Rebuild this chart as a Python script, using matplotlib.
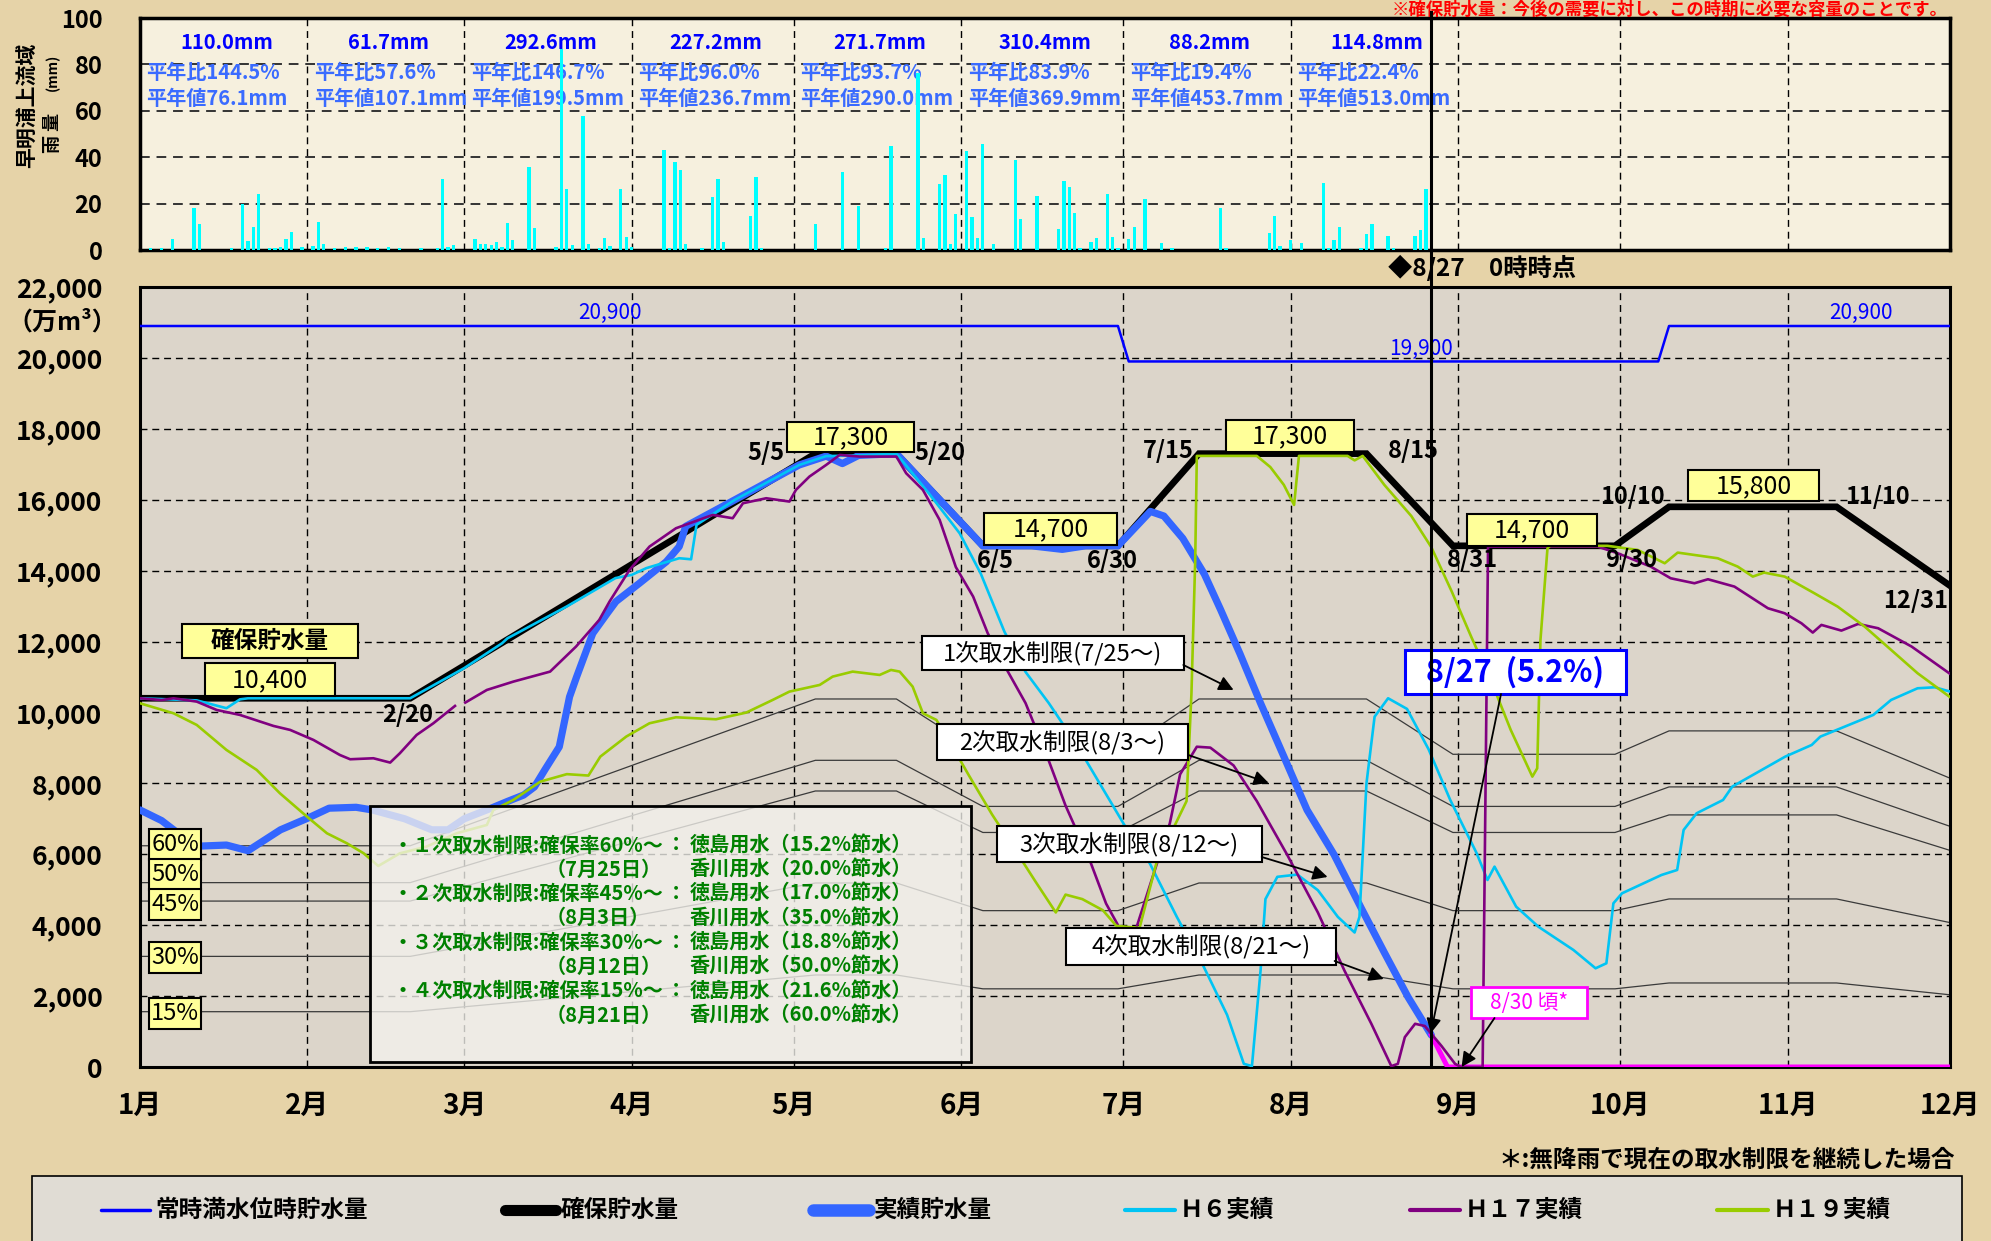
import numpy as np
import matplotlib
matplotlib.use("Agg")
import matplotlib.pyplot as plt
import matplotlib.transforms as mtransforms
from matplotlib.patches import Rectangle
from matplotlib.lines import Line2D

plt.rcParams["font.family"] = ["Noto Sans CJK JP", "DejaVu Sans"]

W, H = 1991, 1241

# =========================================
# DATA
# =========================================

# day-of-year (2008) of the 1st of each month
MONTH_START = [0, 31, 60, 91, 121, 152, 182, 213, 244, 274, 305, 335]
month_labels = ["1月", "2月", "3月", "4月", "5月", "6月",
                "7月", "8月", "9月", "10月", "11月", "12月"]


def doy(md):
    m, d = md.split("/")
    return MONTH_START[int(m) - 1] + int(d) - 1


# daily rainfall upstream of Sameura dam (day, mm)
rain_pts = [
    (2, 1), (4, 1), (6, 4.6), (10, 18), (11, 11), (17, 1), (19, 20), (20, 4),
    (21, 10), (22, 24), (24, 1), (25, 1), (26, 1.5), (27, 4.6), (28, 7.6),
    (30, 1.5), (32, 1.7), (33, 12), (34, 2.4), (36, 1), (38, 1.5), (40, 1.5),
    (42, 1.2), (44, 1), (46, 1.5), (48, 1), (52, 0.8), (55, 1), (56, 30.5),
    (57, 1.5), (58, 2), (62, 4.6), (63, 2.4), (64, 2.4), (65, 2), (66, 3.3),
    (67, 1.5), (68, 11.5), (69, 4.3), (72, 35.7), (73, 9.4), (77, 1.5),
    (78, 86.6), (79, 26.2), (80, 2), (82, 57.8), (83, 2.6), (85, 1), (86, 5),
    (87, 1.7), (89, 26.2), (90, 5.5), (91, 1.5), (97, 43.2), (98, 1),
    (99, 37.8), (100, 34.5), (101, 2.4), (104, 1), (106, 22.7), (107, 30.5),
    (108, 3.3), (113, 14.7), (114, 31.4), (115, 1), (125, 11.2), (130, 33.5),
    (133, 19), (138, 1), (139, 45), (144, 76.3), (145, 5), (148, 28.5),
    (149, 32.4), (150, 2.5), (151, 15.4), (153, 42.7), (154, 14.1), (155, 5),
    (156, 45.8), (158, 2.4), (162, 38.8), (163, 13.2), (166, 23.3), (170, 8.9),
    (171, 29.8), (172, 27), (173, 15.8), (174, 1), (176, 3.3), (177, 5),
    (179, 24.2), (180, 5.5), (181, 1), (183, 4.7), (184, 9.8), (186, 22),
    (189, 2.9), (191, 0.8), (200, 18), (201, 1), (209, 7.2), (210, 14.7),
    (211, 1.7), (213, 4.3), (215, 2.9), (219, 29), (220, 1), (221, 4.3),
    (222, 9.8), (226, 1), (227, 6.8), (228, 11.2), (231, 6), (232, 0.8),
    (236, 6), (237, 8.6), (238, 26.2),
]
rain_total = ["110.0mm", "61.7mm", "292.6mm", "227.2mm",
              "271.7mm", "310.4mm", "88.2mm", "114.8mm"]
rain_ratio = ["144.5%", "57.6%", "146.7%", "96.0%",
              "93.7%", "83.9%", "19.4%", "22.4%"]
rain_normal = ["76.1mm", "107.1mm", "199.5mm", "236.7mm",
               "290.0mm", "369.9mm", "453.7mm", "513.0mm"]

# 常時満水位時貯水量
full_dates = ["1/1", "6/30", "7/2", "10/8", "10/10", "12/31"]
full_vals = [20900, 20900, 19900, 19900, 20900, 20900]

# 確保貯水量
kakuho_dates = ["1/1", "2/20", "5/5", "5/20", "6/5", "6/30", "7/15",
                "8/15", "8/31", "9/30", "10/10", "11/10", "12/31"]
kakuho_vals = [10400, 10400, 17300, 17300, 14700, 14700, 17300,
               17300, 14700, 14700, 15800, 15800, 10400]
restrict_pct = [60, 50, 45, 30, 15]

# 実績貯水量 (day, 万m3)
jisseki_pts = [
    (0, 7250), (4, 6950), (7, 6600), (11, 6230), (16, 6260), (20, 6100),
    (26, 6690), (31, 7015), (35, 7300), (40, 7325), (43, 7250), (49, 7000),
    (54, 6690), (57, 6690), (60, 7000), (65, 7300), (68, 7490), (71, 7670),
    (73, 7900), (75, 8400), (77.6, 9030), (79.5, 10440), (80.8, 11000),
    (83.8, 12230), (86.5, 12800), (88.1, 13130), (92.4, 13640), (97.4, 14250),
    (99.8, 14680), (101, 15250), (110, 15990), (122, 16980), (127, 17230),
    (130, 17020), (133, 17250), (140, 17300), (156, 14700), (165, 14700),
    (170.7, 14600), (175, 14700), (181, 14700), (187, 15670), (189.5, 15540),
    (193, 14910), (197, 13900), (200, 12900), (203.6, 11650), (207.4, 10260),
    (211.7, 8760), (216, 7250), (221, 5990), (226, 4490), (230.3, 3230),
    (234.7, 1970), (239, 900),
]
# 予測 (無降雨で取水制限継続)
forecast_dates = ["8/27", "8/30", "12/31"]
forecast_vals = [900, 0, 0]

# H6
h6_pts = [
    (0, 10400), (10.5, 10340), (14, 10200), (16, 10120), (18.5, 10370),
    (20, 10400), (50, 10400), (60, 11250), (67, 11950), (68, 12090),
    (79, 12990), (88, 13790), (91, 13880), (93.7, 14070), (99.8, 14350),
    (102, 14320), (103, 15290), (110, 15990), (122, 16980), (127, 17230),
    (133, 17250), (140, 17300), (146, 16180), (149.6, 15470), (151.7, 15055),
    (155.6, 13920), (160, 12274), (163.9, 11143), (168.2, 10264),
    (173.2, 9133), (177.6, 8003), (182.5, 6746), (186.9, 5741), (191.9, 4234),
    (196.8, 2852), (201.2, 1470), (204.3, 90), (205.8, 25), (207.4, 2726),
    (208.3, 4736), (210.5, 5364), (214.2, 5427), (218, 4987), (221.7, 4234),
    (224.8, 3794), (225.7, 4234), (227, 8003), (228.5, 9880), (231, 10400),
    (234.5, 10100), (238.5, 8960), (242.5, 7532), (247.4, 6027),
    (249.4, 5275), (250.7, 5651), (254.7, 4523), (258.8, 3959),
    (265.3, 3301), (269.4, 2784), (271.4, 2925), (272.7, 4617),
    (274.3, 4899), (281.6, 5416), (284.5, 5557), (285.7, 6686),
    (288.1, 7156), (293, 7532), (294.7, 7908), (304.5, 8754), (309.4, 9083),
    (311, 9318), (320.8, 9930), (324.1, 10353), (329, 10682),
    (332.2, 10710), (335, 10589),
]

# H17 (2/29 is missing -> gap)
h17_pts = [
    (0, 10400), (4, 10350), (6.2, 10400), (10.5, 10306), (14.2, 10070),
    (18.5, 9930), (24.7, 9620), (27.8, 9507), (32.1, 9225), (37, 8800),
    (38.9, 8680), (43.2, 8708), (46.3, 8586), (48.1, 8850), (51.2, 9366),
    (54.3, 9695), (58.3, 10184), (59, np.nan), (60.2, 10278), (64.2, 10635),
    (69.1, 10870), (75.9, 11152), (80.7, 11858), (85, 12610), (86.9, 13127),
    (90.6, 14020), (94.3, 14679), (99.2, 15196), (106, 15572),
    (109.7, 15478), (111.6, 15901), (115.9, 16042), (120.2, 15948),
    (121.4, 16277), (123.9, 16653), (127, 16982), (129.5, 17264),
    (133.2, 17217), (140, 17217), (141.8, 16747), (144.9, 16277),
    (148, 15431), (151, 14100), (154.2, 13268), (156.9, 12234),
    (160.2, 11269), (163.9, 10264), (167.6, 8882), (171.3, 7374),
    (175.7, 5867), (178.8, 4611), (181.3, 3920), (184.4, 3920),
    (186.9, 5113), (190.6, 6872), (192.5, 8254), (195.6, 9033),
    (198.1, 9008), (202.4, 8505), (206.7, 7500), (212.3, 5992),
    (218, 4359), (222.9, 2726), (227.9, 1219), (231.6, 25), (232.8, 88),
    (234.1, 842), (236, 1219), (237.8, 1156), (240.9, 590), (243.4, 88),
    (244.5, 0), (248.5, 0), (249.5, 14678), (269.8, 14678), (273.5, 14490),
    (279.6, 14114), (283.3, 13785), (287.7, 13644), (290.2, 13757),
    (295.1, 13550), (301.3, 12939), (304.4, 12798), (307.5, 12516),
    (309.6, 12253), (311.2, 12469), (314.9, 12309), (318, 12497),
    (321.7, 12375), (327.9, 11858), (335.3, 11058),
]

# H19
h19_pts = [
    (0, 10259), (6.2, 9977), (10.5, 9648), (16, 8943), (21.6, 8379),
    (25.9, 7720), (30.9, 7062), (34.6, 6592), (38.3, 6309), (41.4, 6027),
    (44.1, 5670), (48.1, 6027), (53, 6215), (58.6, 6592), (64.2, 6827),
    (65.4, 7250), (69.1, 7532), (74.1, 8049), (79, 8260), (83, 8220),
    (85.2, 8755), (90, 9320), (94.3, 9695), (99.2, 9864), (106.6, 9808),
    (112.2, 9996), (117.1, 10353), (120.2, 10588), (125.8, 10776),
    (128.2, 11011), (131.9, 11152), (136.9, 11058), (139, 11199),
    (140.6, 11152), (143, 10729), (144.9, 9977), (147.4, 9789),
    (150.5, 9000), (153.3, 8254), (157.7, 7123), (162, 6118), (165.7, 5239),
    (169.5, 4359), (171.3, 4862), (174.4, 4736), (178.2, 4422),
    (180.7, 3982), (185, 3920), (188.1, 5741), (193.7, 7500),
    (194.6, 10515), (195.3, 14284), (195.6, 17236), (206.7, 17236),
    (209.2, 16922), (211.7, 16420), (213.6, 15854), (214.5, 17236),
    (223.5, 17236), (224.8, 17110), (226.3, 17236), (230.3, 16420),
    (235.3, 15540), (239, 14661), (242.8, 13404), (246.4, 12130),
    (250, 10917), (253.7, 9507), (257.7, 8190), (258.6, 8425),
    (259.2, 12046), (260.5, 14631), (261, 14700), (271.6, 14700),
    (277.2, 14584), (282.2, 14208), (284.6, 14509), (292, 14349),
    (295.7, 14114), (298.5, 13832), (300.6, 13945), (304.4, 13832),
    (309.9, 13362), (314.2, 12986), (319.2, 12422), (324.1, 11764),
    (329, 11106), (335.3, 10400),
]

# =========================================
# FIGURE / AXES
# =========================================

BG = "#E6D3A8"
PXD = (1950 - 140) / 335.0     # px per day
PXV = 780 / 22000.0            # px per 万m3


def fx(x):
    return x / W


def fy(y):
    return 1 - y / H


fig = plt.figure(figsize=(W / 100, H / 100), dpi=100, facecolor=BG)
ax_r = fig.add_axes([fx(140), fy(250), fx(1950) - fx(140), fy(18) - fy(250)])
ax = fig.add_axes([fx(140), fy(1067), fx(1950) - fx(140), fy(287) - fy(1067)])

dash = (0, (5, 3.5))

# ---------------- rain ----------------
ax_r.set_facecolor("#F6F0DE")
rd = [d for d, v in rain_pts]
rv = [v for d, v in rain_pts]
ax_r.bar(rd, rv, width=0.6, color="#00FFFF", zorder=4)
ax_r.set_xlim(0, 335)
ax_r.set_ylim(0, 100)
ax_r.set_yticks(range(0, 101, 20))
ax_r.set_yticklabels([str(v) for v in range(0, 101, 20)],
                     fontsize=17, fontweight="bold")
ax_r.set_xticks([])
ax_r.tick_params(axis="y", length=0, pad=27)
for v in range(20, 100, 20):
    ax_r.axhline(v, color="#333333", lw=1.4, ls=dash, zorder=1)
for m in MONTH_START[1:11]:
    ax_r.axvline(m, color="black", lw=1.0, ls=dash, zorder=1)
for s in ax_r.spines.values():
    s.set_linewidth(2.5)

for i in range(8):
    m0, m1 = MONTH_START[i], MONTH_START[i + 1]
    ax_r.text((m0 + m1) / 2 + 0.5, 89.5, rain_total[i], ha="center", va="center",
              color="#0000FF", fontsize=14.5, fontweight="bold", zorder=3)
    ax_r.text(m0 + 1.2, 76.7, "平年比" + rain_ratio[i], ha="left", va="center",
              color="#3A6BFF", fontsize=14.5, fontweight="bold", zorder=3)
    ax_r.text(m0 + 1.2, 65.5, "平年値" + rain_normal[i], ha="left", va="center",
              color="#3A6BFF", fontsize=14.5, fontweight="bold", zorder=3)

fig.text(fx(27), fy(105), "早明浦上流域", rotation=90, ha="center", va="center",
         fontsize=15, fontweight="bold")
fig.text(fx(53), fy(133), "雨 量", rotation=90, ha="center", va="center",
         fontsize=13, fontweight="bold")
fig.text(fx(53), fy(72), "(mm)", rotation=90, ha="center", va="center",
         fontsize=10, fontweight="bold")

# ---------------- main ----------------
ax.set_facecolor("#DCD5CA")
ax.set_xlim(0, 335)
ax.set_ylim(0, 22000)
ax.set_yticks(range(0, 22001, 2000))
ax.set_yticklabels([f"{v:,}" for v in range(0, 22001, 2000)],
                   fontsize=19, fontweight="bold")
ax.set_xticks(MONTH_START)
ax.set_xticklabels(month_labels, fontsize=20, fontweight="bold")
ax.tick_params(axis="y", length=0, pad=27)
ax.tick_params(axis="x", length=0, pad=18)
for v in range(2000, 22000, 2000):
    ax.axhline(v, color="black", lw=1.0, ls=dash, zorder=1)
for m in MONTH_START[1:11]:
    ax.axvline(m, color="black", lw=1.0, ls=dash, zorder=1)
for s in ax.spines.values():
    s.set_linewidth(2.2)

fig.text(fx(62), fy(322), "（万m³）", ha="center", va="center",
         fontsize=18, fontweight="bold")

kx = [doy(d) for d in kakuho_dates]
for p in restrict_pct:
    ax.plot(kx, [p / 100 * v for v in kakuho_vals], color="#3A3A3A",
            lw=0.9, zorder=2)

ax.plot([doy(d) for d in full_dates], full_vals, color="#0000FF", lw=1.8, zorder=3)
ax.plot(kx, kakuho_vals, color="black", lw=4.8, zorder=4, solid_joinstyle="miter")
ax.plot([d for d, v in jisseki_pts], [v for d, v in jisseki_pts],
        color="#3366FF", lw=5.2, zorder=5, solid_capstyle="round")
ax.plot([doy(d) for d in forecast_dates], forecast_vals, color="#FF00FF",
        lw=3.6, zorder=5)
ax.plot([d for d, v in h6_pts], [v for d, v in h6_pts], color="#00C4F4",
        lw=1.9, zorder=6)
ax.plot([d for d, v in h17_pts], [v for d, v in h17_pts], color="#800080",
        lw=1.9, zorder=6)
ax.plot([d for d, v in h19_pts], [v for d, v in h19_pts], color="#99CC00",
        lw=1.9, zorder=6)


def box(x, y, w_px, h_px, text, fc, ec, color, size, weight="bold", lw=1.5):
    w = w_px / PXD
    h = h_px / PXV
    ax.add_patch(Rectangle((x - w / 2, y - h / 2), w, h, facecolor=fc,
                           edgecolor=ec, lw=lw, zorder=9))
    ax.text(x, y, text, ha="center", va="center", color=color, fontsize=size,
            fontweight=weight, zorder=10)


YEL = "#FFFF99"
box(24.0, 12017, 176, 34, "確保貯水量", YEL, "black", "black", 17)
box(24.1, 10917, 130, 33, "10,400", YEL, "black", "black", 18, "normal")
box(131.5, 17772, 127, 30, "17,300", YEL, "black", "black", 18, "normal")
box(168.5, 15176, 133, 32, "14,700", YEL, "black", "black", 18, "normal")
box(212.8, 17800, 128, 32, "17,300", YEL, "black", "black", 18, "normal")
box(257.6, 15148, 130, 32, "14,700", YEL, "black", "black", 18, "normal")
box(298.7, 16390, 131, 31, "15,800", YEL, "black", "black", 18, "normal")
for txt, yv in zip([f"{p}%" for p in restrict_pct], [6262, 5416, 4584, 3089, 1509]):
    box(6.5, yv, 52, 31, txt, YEL, "black", "black", 17, "normal")

for txt, xv, yv in [("2/20", 49.6, 9930), ("5/5", 115.9, 17320),
                    ("5/20", 148.1, 17320), ("6/5", 158.3, 14274),
                    ("6/30", 180, 14274), ("7/15", 190.4, 17377),
                    ("8/15", 235.6, 17377), ("8/31", 246.7, 14302),
                    ("9/30", 276.1, 14302), ("10/10", 276.3, 16079),
                    ("11/10", 321.5, 16079), ("12/31", 328.7, 13145)]:
    ax.text(xv, yv, txt, ha="center", va="center", fontsize=17,
            fontweight="bold", zorder=10)

ax.text(87, 20950, "20,900", ha="center", va="bottom", color="#0000FF",
        fontsize=15, zorder=10)
ax.text(237, 19950, "19,900", ha="center", va="bottom", color="#0000FF",
        fontsize=15, zorder=10)
ax.text(318.5, 20950, "20,900", ha="center", va="bottom", color="#0000FF",
        fontsize=15, zorder=10)

# restriction call-outs
arrow = dict(arrowstyle="-|>", color="black", lw=1.3, mutation_scale=22,
             shrinkA=0, shrinkB=0)
for txt, xc, yc, wpx, hpx, tail, head in [
        ("1次取水制限(7/25〜)", 168.9, 11678, 262, 34, (193.1, 11340), (202.4, 10635)),
        ("2次取水制限(8/3〜)", 170.7, 9168, 251, 36, (194.0, 8801), (208.9, 8011)),
        ("3次取水制限(8/12〜)", 183.1, 6291, 265, 36, (207.6, 5924), (219.8, 5360)),
        ("4次取水制限(8/21〜)", 196.3, 3399, 270, 37, (221.1, 2990), (230.2, 2482))]:
    box(xc, yc, wpx, hpx, txt, "white", "black", "black", 17, "normal")
    ax.annotate("", xy=head, xytext=tail, arrowprops=arrow, zorder=10)

box(254.5, 11142, 221, 44, "8/27  (5.2%)", "white", "#0000FF", "#0000FF", 22,
    "bold", lw=2.2)
ax.annotate("", xy=(238.9, 950), xytext=(251.9, 10522), arrowprops=arrow, zorder=10)
box(257.0, 1819, 116, 31, "8/30 頃*", "white", "#FF00FF", "#FF00FF", 15,
    "normal", lw=2.0)
ax.annotate("", xy=(244.6, 0), xytext=(250.7, 1382), arrowprops=arrow, zorder=10)

# green note box
x0, x1 = (370 - 140) / PXD, (971 - 140) / PXD
y0, y1 = (1067 - 1062) / PXV, (1067 - 806) / PXV
ax.add_patch(Rectangle((x0, y0), x1 - x0, y1 - y0, facecolor="#F4F2ED",
                       alpha=0.78, edgecolor="none", zorder=7))
ax.add_patch(Rectangle((x0, y0), x1 - x0, y1 - y0, facecolor="none",
                       edgecolor="black", lw=2.0, zorder=8))
notes = [
    ("・１次取水制限:確保率60%〜", "徳島用水（15.2%節水）"),
    ("（7月25日）", "香川用水（20.0%節水）"),
    ("・２次取水制限:確保率45%〜", "徳島用水（17.0%節水）"),
    ("（8月3日）", "香川用水（35.0%節水）"),
    ("・３次取水制限:確保率30%〜", "徳島用水（18.8%節水）"),
    ("（8月12日）", "香川用水（50.0%節水）"),
    ("・４次取水制限:確保率15%〜", "徳島用水（21.6%節水）"),
    ("（8月21日）", "香川用水（60.0%節水）"),
]
GRN = "#008000"
for i, (a, b) in enumerate(notes):
    yv = (1067 - (845 + i * 24.3)) / PXV
    xa = (392 - 140) / PXD if i % 2 == 0 else (546 - 140) / PXD
    ax.text(xa, yv, a, ha="left", va="center", color=GRN, fontsize=14.5,
            fontweight="bold", zorder=9)
    if i % 2 == 0:
        ax.text((676 - 140) / PXD, yv, "：", ha="center", va="center", color=GRN,
                fontsize=14.5, fontweight="bold", zorder=9)
    ax.text((690 - 140) / PXD, yv, b, ha="left", va="center", color=GRN,
            fontsize=14.5, fontweight="bold", zorder=9)

# 8/27 reference line through both panels
x827 = doy("8/27")
tr = mtransforms.blended_transform_factory(ax.transData, fig.transFigure)
fig.add_artist(Line2D([x827, x827], [fy(1067), fy(12)], transform=tr,
                      color="black", lw=2.2, zorder=20))
fig.text(fx(1388), fy(268), "◆8/27　0時時点", ha="left", va="center",
         fontsize=17.5, fontweight="bold")

# top note and footnote
fig.text(fx(1948), fy(1), "※確保貯水量：今後の需要に対し、この時期に必要な容量のことです。",
         ha="right", va="top", color="#FF0000", fontsize=12.5, fontweight="bold")
fig.text(fx(1498), fy(1160), "＊:無降雨で現在の取水制限を継続した場合",
         ha="left", va="center", fontsize=17, fontweight="bold")

# ---------------- legend ----------------
fig.add_artist(Rectangle((fx(32), fy(1260)), fx(1962) - fx(32), fy(1176) - fy(1260),
                         transform=fig.transFigure, facecolor="#E0DCD4",
                         edgecolor="black", lw=1.2, zorder=1))
leg = [
    (101, 150, "#0000FF", 2.5, "常時満水位時貯水量"),
    (505, 556, "black", 8, "確保貯水量"),
    (813, 869, "#3366FF", 9, "実績貯水量"),
    (1125, 1175, "#00C4F4", 3, "Ｈ６実績"),
    (1410, 1460, "#800080", 3, "Ｈ１７実績"),
    (1717, 1768, "#99CC00", 3, "Ｈ１９実績"),
]
for xa, xb, col, lw, lab in leg:
    fig.add_artist(Line2D([fx(xa), fx(xb)], [fy(1210), fy(1210)],
                          transform=fig.transFigure, color=col, lw=lw,
                          solid_capstyle="round", zorder=2))
    fig.text(fx(xb + 5), fy(1210), lab, ha="left", va="center", fontsize=17,
             fontweight="bold", zorder=3)

fig.savefig("out.png", dpi=100, facecolor=BG)
